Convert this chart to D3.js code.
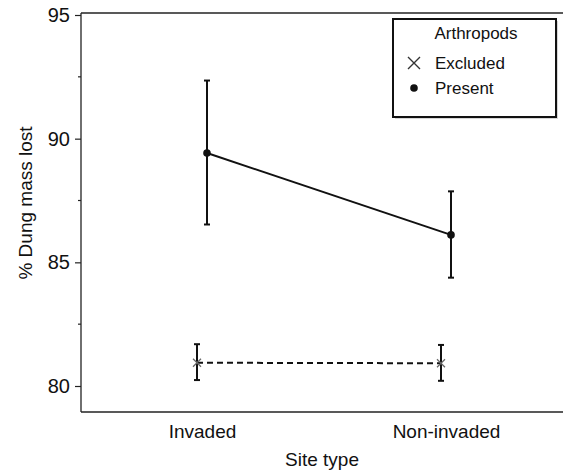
<!DOCTYPE html>
<html>
<head>
<meta charset="utf-8">
<script src="https://cdnjs.cloudflare.com/ajax/libs/d3/7.8.5/d3.min.js"></script>
<style>
  body { margin: 0; background: #fff; }
  text { font-family: "Liberation Sans", Arial, sans-serif; fill: #111; }
</style>
</head>
<body>
<script>
// data
const sites = ["Invaded", "Non-invaded"];
const groups = ["Excluded", "Present"];
const presentMean = [89.42, 86.11];
const presentLow = [86.53, 84.38];
const presentHigh = [92.35, 87.87];
const excludedMean = [80.94, 80.92];
const excludedLow = [80.24, 80.21];
const excludedHigh = [81.69, 81.66];
const yTicks = [80, 85, 90, 95];
const yMinor = [82.5, 87.5, 92.5];

const W = 563, H = 471;
const svg = d3.select("body").append("svg").attr("width", W).attr("height", H);

const x = d3.scalePoint().domain(sites).range([80, 568]).padding(0.5);
const y = d3.scaleLinear().domain([80, 95]).range([386, 15]);
const plotTop = 13, plotBottom = 412, plotLeft = 81;

// frame
svg.append("line").attr("x1", plotLeft).attr("x2", W).attr("y1", plotTop).attr("y2", plotTop)
  .attr("stroke", "#222").attr("stroke-width", 1.3);
svg.append("line").attr("x1", plotLeft).attr("x2", W).attr("y1", plotBottom).attr("y2", plotBottom)
  .attr("stroke", "#222").attr("stroke-width", 1.3);

const yAxis = svg.append("g").attr("transform", `translate(${plotLeft},0)`)
  .call(d3.axisLeft(y).tickValues(yTicks).tickSize(6).tickPadding(5));
yAxis.select(".domain").attr("d", `M0,${plotTop}V${plotBottom}`).attr("stroke", "#222").attr("stroke-width", 1.3);
yAxis.selectAll(".tick line").attr("stroke", "#222").attr("stroke-width", 1.2);
yAxis.selectAll(".tick text").style("font-size", "20px").attr("fill", "#111");
yAxis.selectAll(".minor").data(yMinor).enter().append("line")
  .attr("x1", -3).attr("x2", 0).attr("y1", d => y(d)).attr("y2", d => y(d))
  .attr("stroke", "#222").attr("stroke-width", 1.2);

const xAxis = svg.append("g").attr("transform", `translate(0,${plotBottom})`)
  .call(d3.axisBottom(x).tickSize(0).tickPadding(13));
xAxis.select(".domain").remove();
xAxis.selectAll(".tick text").style("font-size", "19px").attr("fill", "#111");

svg.append("text").attr("x", 322).attr("y", 466).attr("text-anchor", "middle")
  .style("font-size", "19px").text("Site type");
svg.append("text").attr("transform", "translate(32,203) rotate(-90)").attr("text-anchor", "middle")
  .style("font-size", "19px").text("% Dung mass lost");

const dodge = { Excluded: -5, Present: 5 };
function series(name, mean, lo, hi, dash) {
  const pts = sites.map((s, i) => ({ x: x(s) + dodge[name], m: mean[i], lo: lo[i], hi: hi[i] }));
  svg.append("path").datum(pts)
    .attr("d", d3.line().x(d => d.x).y(d => y(d.m)))
    .attr("fill", "none").attr("stroke", "#111").attr("stroke-width", 2)
    .attr("stroke-dasharray", dash);
  const eb = svg.append("g").selectAll("g").data(pts).enter().append("g");
  eb.append("line").attr("x1", d => d.x).attr("x2", d => d.x)
    .attr("y1", d => y(d.lo)).attr("y2", d => y(d.hi)).attr("stroke", "#111").attr("stroke-width", 2);
  [d => d.lo, d => d.hi].forEach(f => {
    eb.append("line").attr("x1", d => d.x - 3).attr("x2", d => d.x + 3)
      .attr("y1", d => y(f(d))).attr("y2", d => y(f(d))).attr("stroke", "#111").attr("stroke-width", 2);
  });
  return pts;
}

const ex = series("Excluded", excludedMean, excludedLow, excludedHigh, "6,4");
svg.append("g").selectAll("path").data(ex).enter().append("path")
  .attr("d", d => `M${d.x - 4},${y(d.m) - 4}L${d.x + 4},${y(d.m) + 4}M${d.x - 4},${y(d.m) + 4}L${d.x + 4},${y(d.m) - 4}`)
  .attr("stroke", "#666").attr("stroke-width", 1.2);

const pr = series("Present", presentMean, presentLow, presentHigh, null);
svg.append("g").selectAll("circle").data(pr).enter().append("circle")
  .attr("cx", d => d.x).attr("cy", d => y(d.m)).attr("r", 3.8).attr("fill", "#111");

// legend
const lg = svg.append("g");
lg.append("rect").attr("x", 395).attr("y", 21).attr("width", 163).attr("height", 98)
  .attr("fill", "#bbb").attr("opacity", 0.6);
lg.append("rect").attr("x", 393).attr("y", 19).attr("width", 163).attr("height", 98)
  .attr("fill", "#fff").attr("stroke", "#111").attr("stroke-width", 2);
lg.append("text").attr("x", 476).attr("y", 39).attr("text-anchor", "middle")
  .style("font-size", "17px").text("Arthropods");
groups.forEach((g, i) => {
  const cy = 63 + i * 25;
  if (g === "Excluded") {
    lg.append("path").attr("d", `M408,${cy - 6}L420,${cy + 6}M408,${cy + 6}L420,${cy - 6}`)
      .attr("stroke", "#333").attr("stroke-width", 1.4);
  } else {
    lg.append("circle").attr("cx", 414).attr("cy", cy).attr("r", 3.8).attr("fill", "#111");
  }
  lg.append("text").attr("x", 435).attr("y", cy + 6).style("font-size", "17px").text(g);
});
</script>
</body>
</html>
